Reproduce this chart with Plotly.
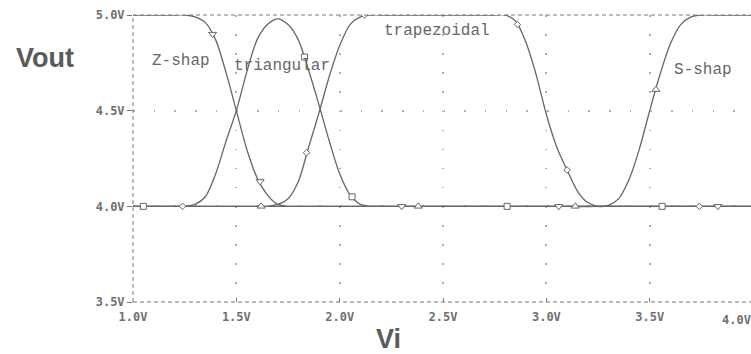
import plotly.graph_objects as go

# ---- data ----
x_z = [1.00, 1.10, 1.20, 1.25, 1.30, 1.35, 1.40, 1.45, 1.50, 1.55, 1.60, 1.65, 1.70, 1.75, 1.80, 2.00, 3.00, 4.00]
y_z = [5.00, 5.00, 5.00, 5.00, 4.99, 4.96, 4.87, 4.70, 4.50, 4.30, 4.15, 4.06, 4.01, 4.00, 4.00, 4.00, 4.00, 4.00]

x_tri = [1.00, 1.20, 1.25, 1.30, 1.35, 1.40, 1.45, 1.50, 1.55, 1.60, 1.65, 1.70, 1.75, 1.80, 1.85, 1.90,
         1.95, 2.00, 2.05, 2.10, 2.15, 2.20, 3.00, 4.00]
y_tri = [4.00, 4.00, 4.00, 4.01, 4.05, 4.17, 4.34, 4.50, 4.70, 4.87, 4.95, 4.98, 4.95, 4.87, 4.71, 4.53,
         4.34, 4.17, 4.06, 4.01, 4.00, 4.00, 4.00, 4.00]

x_trap = [1.00, 1.50, 1.60, 1.65, 1.70, 1.75, 1.80, 1.85, 1.90, 1.95, 2.00, 2.05, 2.10, 2.15, 2.20, 2.50,
          2.70, 2.75, 2.80, 2.85, 2.90, 2.95, 3.00, 3.05, 3.10, 3.15, 3.20, 3.25, 3.30, 3.50, 4.00]
y_trap = [4.00, 4.00, 4.00, 4.00, 4.01, 4.04, 4.13, 4.31, 4.49, 4.68, 4.84, 4.95, 4.99, 5.00, 5.00, 5.00,
          5.00, 5.00, 5.00, 4.97, 4.86, 4.69, 4.48, 4.31, 4.19, 4.08, 4.02, 4.00, 4.00, 4.00, 4.00]

x_s = [1.00, 2.00, 3.00, 3.25, 3.30, 3.35, 3.40, 3.45, 3.50, 3.55, 3.60, 3.65, 3.70, 3.75, 3.80, 4.00]
y_s = [4.00, 4.00, 4.00, 4.00, 4.005, 4.04, 4.14, 4.30, 4.50, 4.69, 4.85, 4.95, 4.99, 5.00, 5.00, 5.00]

mk_z_x = [1.385, 1.615, 2.30, 3.06, 3.83]
mk_z_y = [4.90, 4.13, 4.00, 4.00, 4.00]
mk_tri_x = [1.05, 1.83, 2.06, 2.81, 3.56]
mk_tri_y = [4.00, 4.78, 4.05, 4.00, 4.00]
mk_trap_x = [1.24, 1.84, 2.12, 2.86, 3.10, 3.74]
mk_trap_y = [4.00, 4.28, 5.00, 4.95, 4.19, 4.00]
mk_s_x = [1.62, 2.38, 3.14, 3.53]
mk_s_y = [4.00, 4.00, 4.00, 4.61]

x_ticks = [1.0, 1.5, 2.0, 2.5, 3.0, 3.5]
x_ticktext = ["1.0V", "1.5V", "2.0V", "2.5V", "3.0V", "3.5V"]
y_ticks = [3.5, 4.0, 4.5, 5.0]
y_ticktext = ["3.5V", "4.0V", "4.5V", "5.0V"]

curve_labels = ["Z-shap", "triangular", "trapezoidal", "S-shap"]
label_x = [1.232, 1.72, 2.47, 3.757]
label_y = [4.757, 4.733, 4.916, 4.71]

# ---- figure ----
LINE = "#666666"
fig = go.Figure()

series = [
    (x_z, y_z, mk_z_x, mk_z_y, "triangle-down", 7),
    (x_tri, y_tri, mk_tri_x, mk_tri_y, "square", 6),
    (x_trap, y_trap, mk_trap_x, mk_trap_y, "diamond", 5),
    (x_s, y_s, mk_s_x, mk_s_y, "triangle-up", 7),
]
for xs, ys, mx, my, sym, sz in series:
    fig.add_trace(go.Scatter(x=xs, y=ys, mode="lines",
                             line=dict(color=LINE, width=1.3, shape="spline", smoothing=0.8),
                             hoverinfo="skip", showlegend=False))
for xs, ys, mx, my, sym, sz in series:
    fig.add_trace(go.Scatter(x=mx, y=my, mode="markers",
                             marker=dict(symbol=sym, size=sz, color="white",
                                         line=dict(color=LINE, width=1)),
                             hoverinfo="skip", showlegend=False))

tickfont = dict(family="DejaVu Sans Mono", size=12, color="#707070", weight="bold")

fig.update_xaxes(range=[1.0, 3.99], tickvals=x_ticks, ticktext=x_ticktext,
                 tickfont=tickfont, ticks="inside", ticklen=4, tickcolor="#777777",
                 showgrid=True, gridcolor="#b0b0b0", gridwidth=1.5, griddash="1.5px,17.6px",
                 zeroline=False, showline=False, ticklabelstandoff=6)
fig.update_yaxes(range=[3.5, 5.0], tickvals=y_ticks, ticktext=y_ticktext,
                 tickfont=tickfont, ticks="outside", ticklen=5, tickcolor="#777777",
                 showgrid=True, gridcolor="#b0b0b0", gridwidth=1.5, griddash="1.5px,19.2px",
                 zeroline=False, showline=False)

frame = dict(color="#777777", width=1, dash="4px,3px")
fig.add_shape(type="line", xref="paper", yref="paper", x0=0, x1=0, y0=0, y1=1, line=frame)
fig.add_shape(type="line", xref="paper", yref="paper", x0=0, x1=1, y0=1, y1=1, line=frame)
fig.add_shape(type="line", xref="paper", yref="paper", x0=0, x1=1, y0=0, y1=0, line=frame)

for t, lx, ly in zip(curve_labels, label_x, label_y):
    fig.add_annotation(x=lx, y=ly, text=t, showarrow=False, xanchor="center", yanchor="middle",
                       font=dict(family="Liberation Mono", size=16, color="#666666"))

# partially visible last x tick label
fig.add_annotation(xref="paper", yref="paper", x=0.95, y=0, yshift=-9, text="4.0V",
                   showarrow=False, xanchor="left", yanchor="top", font=tickfont)

title_font = dict(family="Liberation Sans", size=27, color="#5a5a5a", weight="bold")
fig.add_annotation(xref="paper", yref="paper", x=-0.143, y=0.85, text="Vout", showarrow=False,
                   xanchor="center", yanchor="middle", font=title_font)
fig.add_annotation(xref="paper", yref="paper", x=0.414, y=-0.128, text="Vi", showarrow=False,
                   xanchor="center", yanchor="middle", font=title_font)

fig.update_layout(width=751, height=354, margin=dict(l=133, r=0, t=15, b=52),
                  plot_bgcolor="white", paper_bgcolor="white", showlegend=False)

fig.write_html("out.html")
